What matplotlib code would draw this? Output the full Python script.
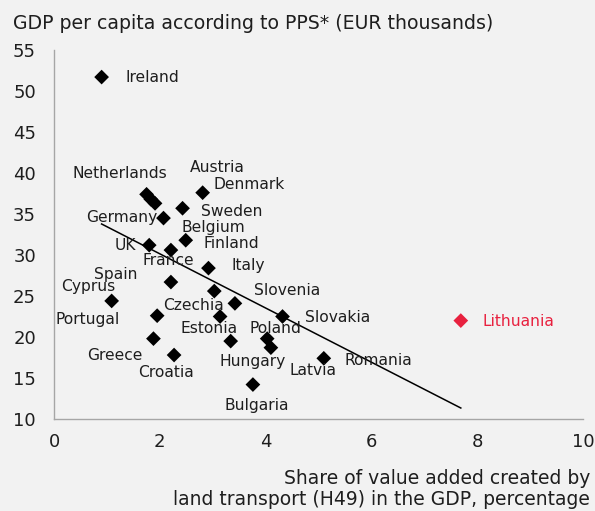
import matplotlib
matplotlib.use("Agg")
import matplotlib.pyplot as plt
import numpy as np

countries = ["Ireland", "Netherlands", "Austria", "Belgium", "Denmark", "Sweden",
             "Germany", "Finland", "UK", "France", "Italy", "Spain", "Czechia",
             "Slovenia", "Cyprus", "Portugal", "Estonia", "Slovakia", "Greece",
             "Hungary", "Poland", "Latvia", "Croatia", "Romania", "Bulgaria",
             "Lithuania"]
transport_share = [0.90, 1.75, 1.83, 1.91, 2.81, 2.43, 2.07, 2.49, 1.80, 2.21,
                   2.92, 2.21, 3.03, 3.42, 1.09, 1.95, 3.14, 4.32, 1.88, 3.34,
                   4.03, 4.10, 2.27, 5.10, 3.76, 7.69]
gdp_pps = [51.7, 37.4, 36.8, 36.3, 37.6, 35.7, 34.5, 31.8, 31.2, 30.6,
           28.4, 26.7, 25.6, 24.1, 24.4, 22.6, 22.5, 22.5, 19.8, 19.5,
           19.8, 18.7, 17.8, 17.4, 14.2, 22.0]
highlight = "Lithuania"

# label offsets (pixels) relative to markers
label_offsets = {
    "Ireland": (50.5, 0), "Netherlands": (-26.7, 20.7), "Austria": (66.5, 32),
    "Belgium": (58.2, -24), "Denmark": (46, 8), "Sweden": (48.9, -3.4),
    "Germany": (-41.6, 0.6), "Finland": (45.5, -3.3), "UK": (-24, -0.3),
    "France": (-2.3, -10), "Italy": (40, 2.7), "Spain": (-55.2, 8),
    "Czechia": (-20.5, -14), "Slovenia": (52.5, 13.3), "Cyprus": (-23.9, 14),
    "Portugal": (-69.5, -4.3), "Estonia": (-10.8, -11.6), "Slovakia": (55.2, -1),
    "Greece": (-39.1, -16.7), "Hungary": (21.8, -20.7), "Poland": (8.5, 10.6),
    "Latvia": (41.8, -22.7), "Croatia": (-7.6, -17.3), "Romania": (54.8, -1.7),
    "Bulgaria": (4.1, -21), "Lithuania": (57.8, -0.7),
}

bg = "#f2f2f2"
red = "#e8213f"
txt = "#1e1e1e"
plt.rcParams['font.family'] = ['DejaVu Sans']

fig = plt.figure(figsize=(5.95, 5.11), dpi=100, facecolor=bg)
ax = fig.add_axes([54/595, 92/511, 529/595, 369/511], facecolor=bg)

x = np.array(transport_share)
y = np.array(gdp_pps)
colors = [red if c == highlight else "black" for c in countries]
ax.scatter(x, y, marker="D", s=7.5**2, c=colors, linewidths=0, zorder=3)

# linear trend line over the data range
k, b = np.polyfit(x, y, 1)
xs = np.array([x.min(), x.max()])
ax.plot(xs, k*xs + b, color="black", lw=1.1, zorder=2)

for c, xi, yi in zip(countries, x, y):
    dx, dy = label_offsets[c]
    ax.annotate(c, (xi, yi), xytext=(dx, dy), textcoords="offset pixels",
                ha="center", va="center", fontsize=11.2,
                color=red if c == highlight else txt)

ax.set_xlim(0, 10)
ax.set_ylim(10, 55)
ax.set_xticks(np.arange(0, 11, 2))
ax.set_yticks(np.arange(10, 56, 5))
ax.tick_params(length=0, labelsize=13, colors=txt)
ax.tick_params(axis='y', pad=13)
ax.tick_params(axis='x', pad=10)
for s in ["top", "right"]:
    ax.spines[s].set_visible(False)
for s in ["left", "bottom"]:
    ax.spines[s].set_color("#a6a6a6")
    ax.spines[s].set_linewidth(1)

fig.text(13/595, 1 - 23/511, "GDP per capita according to PPS* (EUR thousands)",
         ha="left", va="center", fontsize=13.6, color=txt)
fig.text(590/595, 1 - 478/511, "Share of value added created by",
         ha="right", va="center", fontsize=13.5, color=txt)
fig.text(590/595, 1 - 499/511, "land transport (H49) in the GDP, percentage",
         ha="right", va="center", fontsize=13.5, color=txt)

fig.savefig("out.png", dpi=100, facecolor=bg)
